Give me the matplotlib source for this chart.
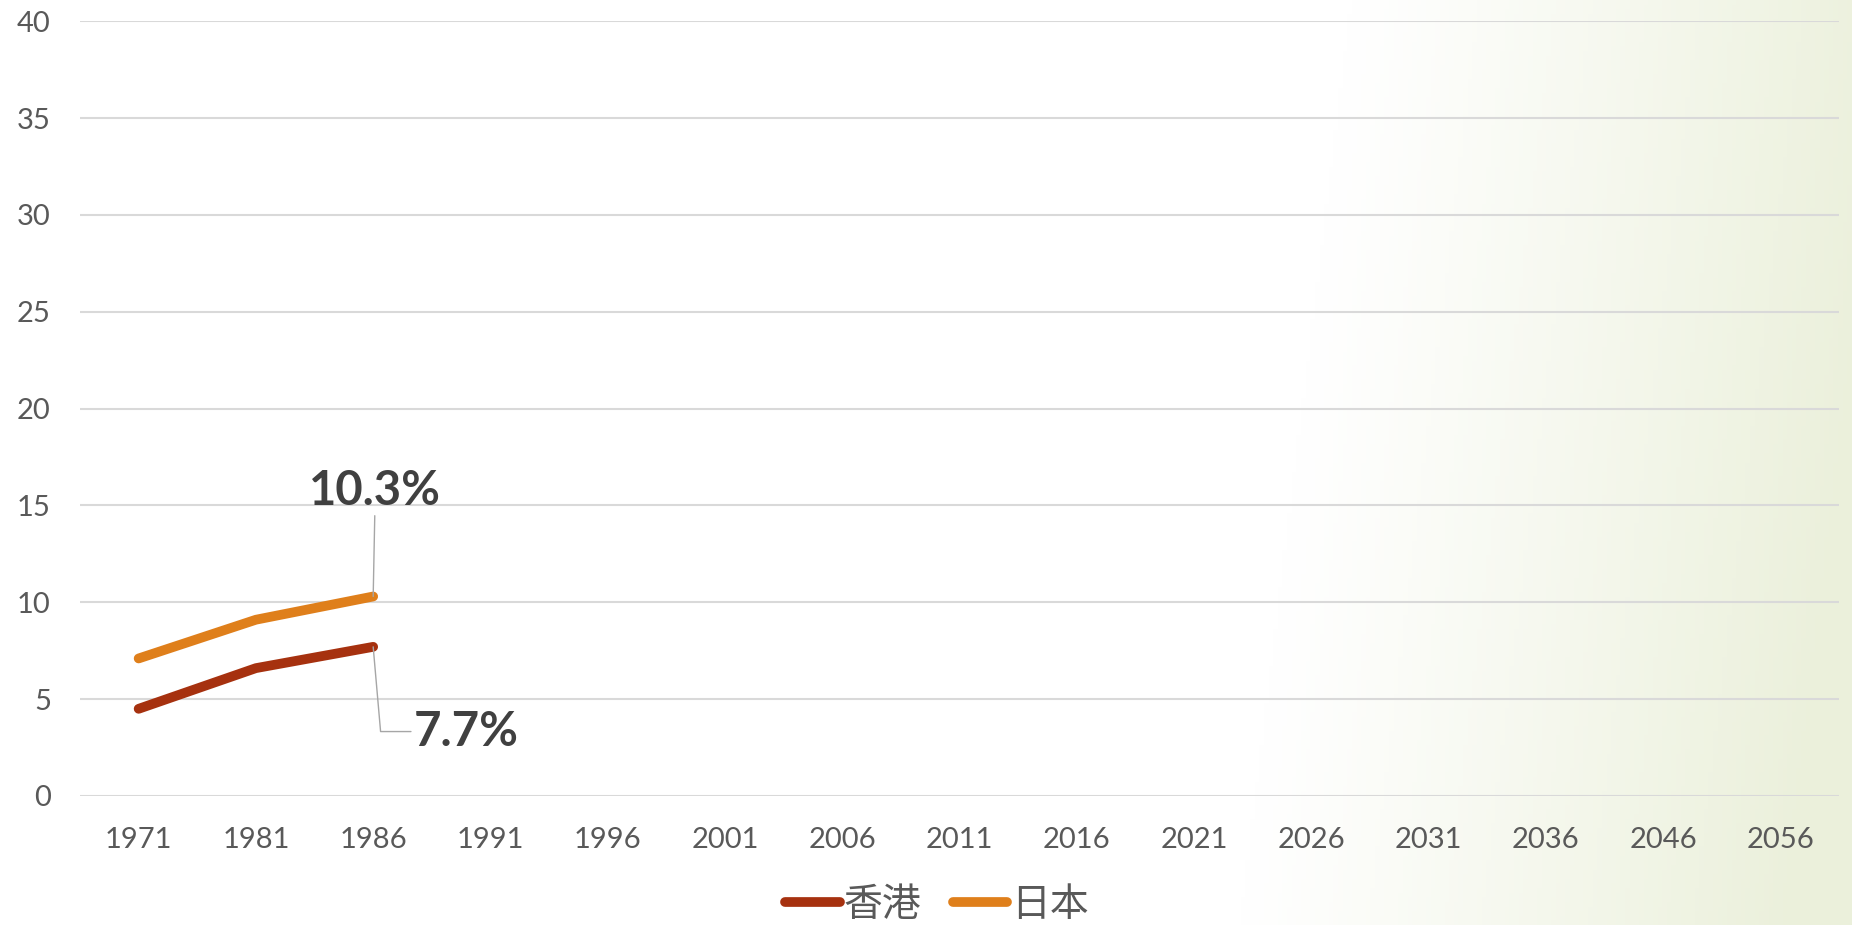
import numpy as np
import matplotlib.pyplot as plt

# category labels and series values (percent)
years = ['1971', '1981', '1986', '1991', '1996', '2001', '2006', '2011',
         '2016', '2021', '2026', '2031', '2036', '2046', '2056']
hong_kong = [4.5, 6.6, 7.7]
japan = [7.1, 9.1, 10.3]
names = ['香港', '日本']

plt.rcParams['font.family'] = ['Lato', 'Noto Sans CJK TC', 'DejaVu Sans']

fig = plt.figure(figsize=(18.52, 9.25), dpi=100)

# background: white fading to pale green on the right
bg = fig.add_axes([0, 0, 1, 1], zorder=-10)
gx, gy = np.meshgrid(np.linspace(0, 1, 400), np.linspace(0, 1, 200))
t = np.clip((gx - 0.70) / 0.30 + (0.5 - gy) * 0.2, 0, 1) ** 1.1
white = np.array([1.0, 1.0, 1.0])
green = np.array([235, 240, 219]) / 255
img = white[None, None, :] * (1 - t[..., None]) + green[None, None, :] * t[..., None]
bg.imshow(img, aspect='auto', extent=[0, 1, 0, 1], origin='lower')
bg.axis('off')

ax = fig.add_axes([0.0432, 0.1395, 0.9498, 0.8375])
ax.patch.set_alpha(0)

x = np.arange(len(years))
ax.plot(x[:len(hong_kong)], hong_kong, color='#A6310F', lw=7, solid_capstyle='round', label=names[0], zorder=3)
ax.plot(x[:len(japan)], japan, color='#DF7F1B', lw=7, solid_capstyle='round', label=names[1], zorder=3)

ax.set_xlim(-0.5, len(years) - 0.5)
ax.set_ylim(0, 40)
ax.set_yticks(range(0, 41, 5))
ax.set_xticks(x)
ax.set_xticklabels(years)
ax.grid(axis='y', color='#D9D9D9', lw=1.5)
ax.set_axisbelow(True)
for s in ax.spines.values():
    s.set_visible(False)
ax.tick_params(length=0, labelsize=21, colors='#595959')
ax.tick_params(axis='y', pad=21)
ax.tick_params(axis='x', pad=22)

# data labels with leader lines
ax.annotate(f'{japan[-1]}%', xy=(x[len(japan) - 1], japan[-1]), xytext=(1.5, 76),
            textcoords='offset points', ha='center', va='center', fontsize=34,
            fontweight='bold', color='#404040',
            arrowprops=dict(arrowstyle='-', color='#A6A6A6', lw=1, shrinkA=0, shrinkB=0))
ax.annotate(f'{hong_kong[-1]}%', xy=(x[len(hong_kong) - 1], hong_kong[-1]), xytext=(67, -61),
            textcoords='offset points', ha='center', va='center', fontsize=34,
            fontweight='bold', color='#404040',
            arrowprops=dict(arrowstyle='-', color='#A6A6A6', lw=1, shrinkA=0, shrinkB=0,
                            connectionstyle='angle,angleA=0,angleB=95,rad=0'))

fig.legend(loc='center', bbox_to_anchor=(0.506, 0.022), ncol=2, frameon=False,
           fontsize=28, handlelength=1.4, handletextpad=0.1, columnspacing=0.8,
           labelcolor='#595959')

fig.savefig('out.png', dpi=100)
